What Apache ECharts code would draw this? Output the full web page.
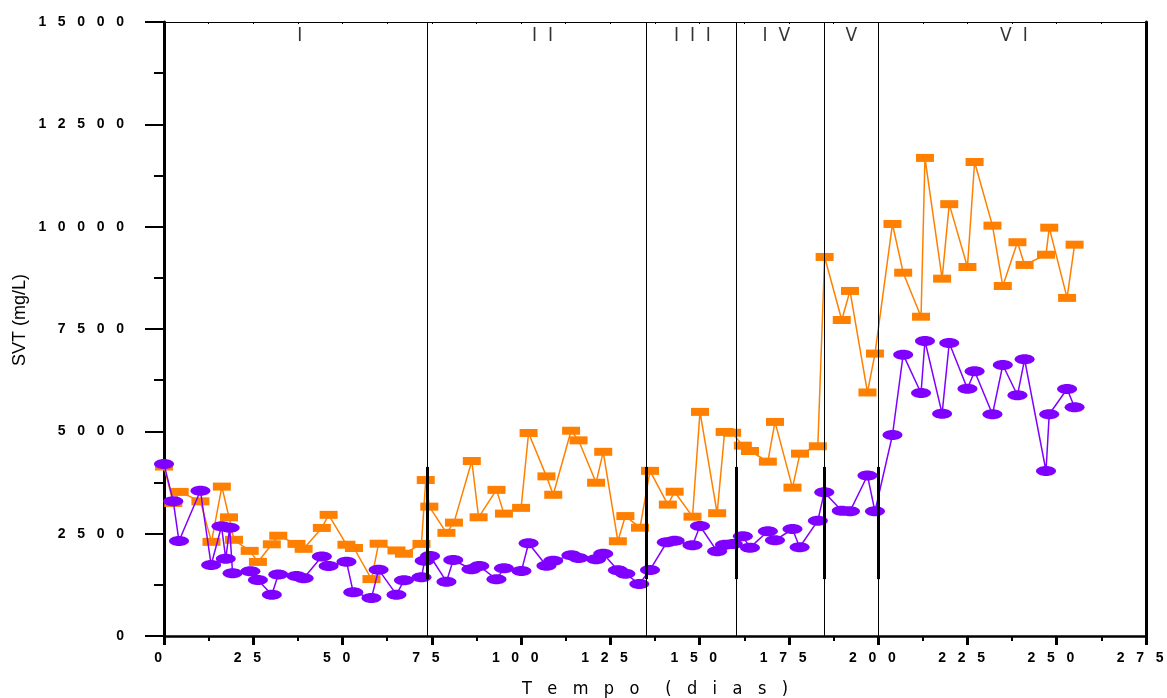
<!DOCTYPE html>
<html>
<head>
<meta charset="utf-8">
<script src="https://cdn.jsdelivr.net/npm/echarts@6/dist/echarts.min.js"></script>
<style>
  html, body { margin: 0; padding: 0; background: #ffffff; }
  #chart { width: 1167px; height: 698px; }
</style>
</head>
<body>
<div id="chart"></div>
<script>
// SVT series (orange rectangles), day and value in mg/L
const orangeDays = [0, 2.6, 4.4, 10.2, 13.3, 16.2, 18.2, 19.6, 24.0, 26.3, 30.2, 32.0, 37.1, 39.1, 44.2, 46.1,
  51.1, 53.2, 58.1, 60.1, 65.1, 67.2, 72.1, 73.3, 74.3, 79.1, 81.2, 86.2, 88.1, 93.1, 95.2, 100.0, 102.1,
  107.1, 109.0, 114.0, 116.1, 121.0, 123.0, 127.1, 129.2, 133.3, 136.1, 141.1, 143.0, 148.0, 150.1, 154.9,
  157.0, 159.1, 162.1, 164.1, 169.1, 171.1, 176.0, 178.1, 183.1, 185.0, 189.8, 192.1, 197.0, 199.1, 204.0,
  207.0, 212.0, 213.1, 217.9, 219.9, 225.0, 227.0, 232.0, 234.9, 239.0, 241.0, 247.0, 247.9, 252.9, 255.0];
const orangeSVT = [4140, 3250, 3520, 3290, 2300, 3650, 2900, 2350, 2080, 1810, 2240, 2450, 2250, 2130, 2640, 2960,
  2230, 2150, 1390, 2255, 2090, 2010, 2250, 3810, 3160, 2520, 2770, 4275, 2900, 3570, 2990, 3130, 4960,
  3900, 3450, 5015, 4780, 3745, 4500, 2315, 2930, 2646, 4035, 3210, 3525, 2915, 5475, 3000,
  4985, 4965, 4650, 4520, 4260, 5230, 3625, 4455, 4635, 9260, 7720, 8430, 5950, 6900, 10066,
  8876, 7800, 11680, 8730, 10550, 9015, 11580, 10025, 8550, 9620, 9065, 9315, 9975, 8260, 9560];

// SVT series (purple ellipses)
const purpleDays = [0, 2.6, 4.2, 10.2, 13.2, 16.1, 17.3, 18.4, 19.2, 24.2, 26.3, 30.2, 32.0, 37.1, 39.1, 44.2,
  46.1, 51.1, 53.0, 58.1, 60.1, 65.1, 67.2, 72.1, 73.0, 74.5, 79.1, 81.0, 86.1, 88.3, 93.1, 95.2, 100.1,
  102.1, 107.1, 109.0, 114.1, 116.1, 121.0, 123.0, 127.1, 129.2, 133.1, 136.1, 140.8, 143.0, 148.0, 150.1,
  154.9, 157.1, 159.3, 162.1, 164.1, 169.1, 171.1, 176.0, 178.0, 183.1, 184.9, 189.8, 192.1, 197.0, 199.1,
  204.0, 207.0, 212.0, 213.1, 217.9, 219.9, 225.0, 227.0, 232.0, 234.9, 239.0, 241.0, 247.0, 247.9, 252.9, 255.0];
const purpleSVT = [4200, 3290, 2320, 3550, 1735, 2680, 1890, 2646, 1530, 1580, 1370, 1010, 1500, 1466, 1410, 1940,
  1710, 1815, 1067, 930, 1620, 1010, 1360, 1434, 1840, 1955, 1327, 1857, 1630, 1710, 1385, 1653, 1590,
  2265, 1718, 1840, 1970, 1906, 1873, 2011, 1605, 1522, 1270, 1615, 2290, 2330, 2216, 2687,
  2069, 2231, 2248, 2435, 2158, 2558, 2338, 2614, 2167, 2817, 3510, 3061, 3046, 3920, 3046,
  4911, 6873, 5937, 7207, 5431, 7158, 6042, 6467, 5416, 6621, 5881, 6760, 4031, 5416, 6035, 5587];

// Operating phases: boundaries (days), names and label positions
const phaseBounds = [73.6, 135.1, 160.3, 184.9, 200];
const phaseNames = ['I', 'II', 'III', 'IV', 'V', 'VI'];
const phaseCenters = [38, 106, 148, 171.5, 192.5, 238];
const phaseLabelLevel = 14650;
const boundBandSVT = [1390, 4130];

const ORANGE = '#FF8000';
const PURPLE = '#8000FF';
const ELLIPSE = 'path://M0,1C0,0.448 0.448,0 1,0C1.552,0 2,0.448 2,1C2,1.552 1.552,2 1,2C0.448,2 0,1.552 0,1Z';
const NARROW = "'Liberation Sans Narrow', 'DejaVu Sans Condensed', 'Liberation Sans', Arial, sans-serif";
const SANS = "'Liberation Sans', Arial, sans-serif";

const spread = (s, gap) => String(s).split('').join(gap);
const zip = (xs, ys) => xs.map((x, i) => [x, ys[i]]);

const chart = echarts.init(document.getElementById('chart'), null, { renderer: 'canvas' });

const boundaryLines = phaseBounds.map(d => ({ xAxis: d, lineStyle: { color: '#000', width: 1, type: 'solid' } }));
const boundarySegments = phaseBounds.map(d => [
  { coord: [d, boundBandSVT[0]], lineStyle: { color: '#000', width: 3, type: 'solid' } },
  { coord: [d, boundBandSVT[1]] }
]);

chart.setOption({
  animation: false,
  backgroundColor: '#ffffff',
  grid: { left: 164, right: 21, top: 22, bottom: 62, containLabel: false, outerBoundsMode: 'none' },
  xAxis: [{
    type: 'value', min: 0, max: 275, interval: 25,
    axisLine: { show: true, onZero: false, lineStyle: { color: '#000', width: 2.5 } },
    axisTick: { show: true, length: 9, lineStyle: { color: '#000', width: 3 } },
    minorTick: { show: true, splitNumber: 2, length: 5, lineStyle: { color: '#000', width: 2 } },
    splitLine: { show: false },
    axisLabel: {
      margin: 15, color: '#000', fontFamily: SANS, fontWeight: 'bold', fontSize: 14,
      formatter: v => spread(v, '   ') + '   '
    },
    name: spread('Tempo', '   ') + '     ' + spread('(dias)', '   '),
    nameLocation: 'middle', nameGap: 44,
    nameTextStyle: { color: '#000', fontFamily: NARROW, fontSize: 18 }
  }, {
    type: 'value', min: 0, max: 275, interval: 25, position: 'top',
    axisLine: { show: true, onZero: false, lineStyle: { color: '#000', width: 1 } },
    axisTick: { show: true, inside: true, length: 2, lineStyle: { color: '#000', width: 1 } },
    minorTick: { show: true, splitNumber: 2, length: 2, lineStyle: { color: '#000', width: 1 } },
    splitLine: { show: false },
    axisLabel: { show: false }
  }],
  yAxis: [{
    type: 'value', min: 0, max: 15000, interval: 2500,
    axisLine: { show: true, onZero: false, lineStyle: { color: '#000', width: 3 } },
    axisTick: { show: true, length: 19, lineStyle: { color: '#000', width: 2 } },
    minorTick: { show: true, splitNumber: 2, length: 10, lineStyle: { color: '#000', width: 2 } },
    splitLine: { show: false },
    axisLabel: {
      margin: 40, color: '#000', fontFamily: SANS, fontWeight: 'bold', fontSize: 14,
      formatter: v => spread(v, '   ')
    }
  }, {
    type: 'value', min: 0, max: 15000, interval: 2500, position: 'right',
    axisLine: { show: true, onZero: false, lineStyle: { color: '#000', width: 3 } },
    axisTick: { show: false },
    splitLine: { show: false },
    axisLabel: { show: false }
  }],
  graphic: [{
    type: 'text', x: 20, y: 320, rotation: Math.PI / 2,
    style: { text: 'SVT (mg/L)', fill: '#000', font: '18px ' + SANS, align: 'center', verticalAlign: 'middle' }
  }],
  series: [{
    name: 'SVT laranja',
    type: 'line',
    data: zip(orangeDays, orangeSVT),
    symbol: 'rect', symbolSize: [18, 8],
    lineStyle: { color: ORANGE, width: 1.5 },
    itemStyle: { color: ORANGE },
    clip: false,
    z: 3,
    markLine: {
      silent: true, symbol: 'none', animation: false,
      label: { show: false },
      data: boundaryLines.concat(boundarySegments)
    }
  }, {
    name: 'SVT roxo',
    type: 'line',
    data: zip(purpleDays, purpleSVT),
    symbol: ELLIPSE, symbolSize: [20, 10],
    lineStyle: { color: PURPLE, width: 1.5 },
    itemStyle: { color: PURPLE },
    clip: false,
    z: 4
  }, {
    name: 'Fases',
    type: 'scatter',
    data: phaseCenters.map(d => [d, phaseLabelLevel]),
    symbolSize: 0,
    silent: true,
    label: {
      show: true, position: 'inside', color: '#000',
      textBorderWidth: 0,
      fontFamily: NARROW, fontSize: 19,
      formatter: p => spread(phaseNames[p.dataIndex], '  ')
    },
    z: 5
  }]
});
</script>
</body>
</html>
